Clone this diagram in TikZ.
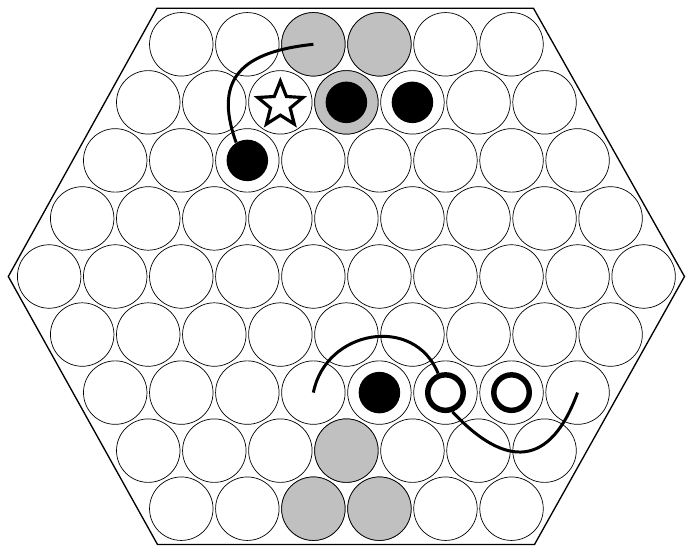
\documentclass[tikz,border=0pt]{standalone}
\usetikzlibrary{shapes.geometric}
\definecolor{blocked}{HTML}{C0C0C0}

\begin{document}
\begin{tikzpicture}[x=0.02cm, y=0.02cm,
    cell/.style={circle, draw=black, line width=0.4pt, fill=white,
        minimum size=1.27cm, inner sep=0pt},
    stone/.style={circle, fill=black, minimum size=0.83cm, inner sep=0pt},
    ring/.style={circle, draw=black, line width=3.1pt, fill=white,
        minimum size=0.71cm, inner sep=0pt},
    starmark/.style={star, star points=5, star point ratio=2.3, draw=black,
        line width=1.8pt, fill=white, minimum size=0.95cm, inner sep=0pt},
    link/.style={line width=1.7pt},
]
\useasboundingbox (0,0) rectangle (691,559);

% Board outline
\coordinate (top left) at (157,550.7);
\coordinate (top right) at (533.5,550.7);
\coordinate (right) at (684.5,282.5);
\coordinate (bottom right) at (534.5,14.5);
\coordinate (bottom left) at (157.5,14.5);
\coordinate (left) at (8.3,282.5);
\draw[line width=0.75pt] (top left) -- (top right) -- (right) -- (bottom right)
    -- (bottom left) -- (left) -- cycle;

% Cells, row by row
\foreach \r in {1,...,9}{
  \pgfmathtruncatemacro{\n}{10-abs(\r-5)}
  \foreach \k in {1,...,\n}
    \node[cell] (c\r-\k) at ({346.4+(\k-(\n+1)/2)*66.05}, {514.7-(\r-1)*58.05}) {};
}

% Grey cells
\foreach \g in {1-3,1-4,2-4,8-4,9-3,9-4}
  \node[cell, fill=blocked] (g\g) at (c\g) {};

% Stones
\node[stone] (s2-4) at (c2-4) {};
\node[stone] (s2-5) at (c2-5) {};
\node[stone] (s3-3) at (c3-3) {};
\node[stone] (s7-5) at (c7-5) {};
\node[ring] (r7-6) at (c7-6) {};
\node[ring] (r7-7) at (c7-7) {};
\node[starmark, yshift=-0.05cm] (m2-3) at (c2-3) {};

% Curves
\draw[link] (c1-3.center) to[out=186, in=110, looseness=1.43] (s3-3.122);
\draw[link] (c7-4.center) to[out=79, in=112, looseness=1.3] (r7-6.111);
\draw[link] (r7-6.-70) to[out=-47, in=250, looseness=1.6] (c7-8.center);

\end{tikzpicture}
\end{document}
